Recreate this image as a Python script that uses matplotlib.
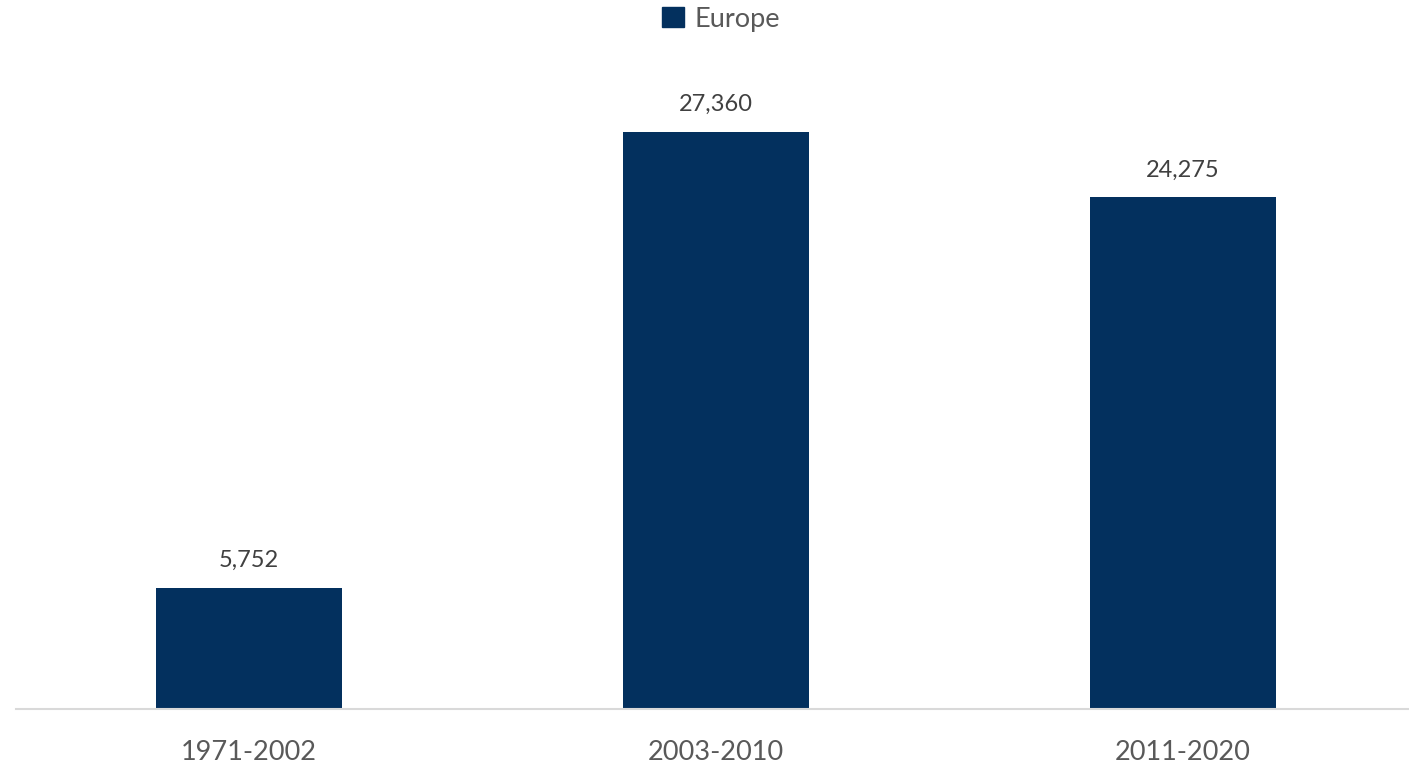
import matplotlib
matplotlib.use("Agg")
import matplotlib.pyplot as plt
from matplotlib.patches import Patch

# Data
periods = ["1971-2002", "2003-2010", "2011-2020"]
europe = [5752, 27360, 24275]

bar_color = "#03305E"
label_color = "#404040"
tick_color = "#595959"

plt.rcParams["font.family"] = ["Lato", "DejaVu Sans"]

W, H = 1409, 765
fig = plt.figure(figsize=(W / 100, H / 100), dpi=100)

# axes placed in pixel terms: baseline at y=709, line from x=16 to right edge
base_px, top_px = 709, 60
left_px, right_px = 16, 1409
ax = fig.add_axes([left_px / W, (H - base_px) / H,
                   (right_px - left_px) / W, (base_px - top_px) / H])

px_per_unit = (709 - 132) / 27360.0
ax.set_ylim(0, (base_px - top_px) / px_per_unit)
slot = 467.0
ax.set_xlim(-(249 - left_px) / slot, 2 + (right_px - 1183) / slot)

x = range(len(periods))
bars = ax.bar(x, europe, width=0.40, color=bar_color, label="Europe")

for b, v in zip(bars, europe):
    ax.annotate(f"{v:,}", (b.get_x() + b.get_width() / 2, v),
                xytext=(0, 12), textcoords="offset points",
                ha="center", va="bottom", fontsize=17, color=label_color)

ax.set_xticks(list(x))
ax.set_xticklabels(periods, fontsize=19.5, color=tick_color)
ax.tick_params(axis="x", length=0, pad=22)
ax.set_yticks([])
for s in ["top", "right", "left"]:
    ax.spines[s].set_visible(False)
ax.spines["bottom"].set_color("#D9D9D9")
ax.spines["bottom"].set_linewidth(1.5)

handles = [Patch(color=bar_color, label="Europe")]
fig.legend(handles=handles, loc="center", bbox_to_anchor=(721 / W, 1 - 19 / H),
           frameon=False, fontsize=19.5, labelcolor=tick_color,
           handlelength=0.8, handleheight=0.8, handletextpad=0.4)

fig.savefig("out.png", dpi=100)
